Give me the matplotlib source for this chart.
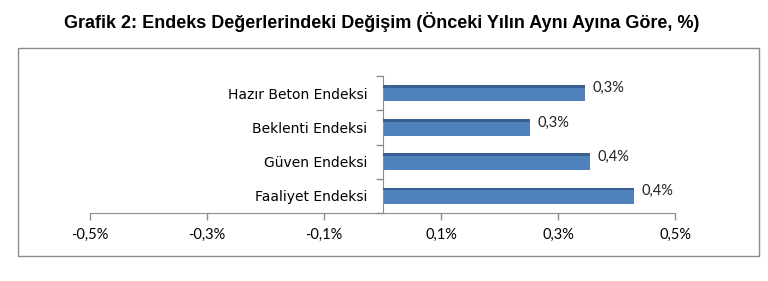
import matplotlib
matplotlib.use("Agg")
import matplotlib.pyplot as plt
from matplotlib.patches import Rectangle
import numpy as np

categories = ["Faaliyet Endeksi", "Güven Endeksi", "Beklenti Endeksi", "Hazır Beton Endeksi"]
values = [0.43, 0.355, 0.252, 0.346]
xticks = [-0.5, -0.3, -0.1, 0.1, 0.3, 0.5]
title = "Grafik 2: Endeks Değerlerindeki Değişim (Önceki Yılın Aynı Ayına Göre, %)"

def pct(v):
    return f"{v:.1f}".replace(".", ",") + "%"

fig = plt.figure(figsize=(7.68, 2.81), dpi=100)
fig.patch.set_facecolor("white")

# outer frame
fig.patches.append(Rectangle((18/768, 1-256/281), 741/768, 208/281,
                             transform=fig.transFigure, fill=False,
                             edgecolor="#8c8c8c", linewidth=1.0))

fig.text(0.497, 0.92, title, ha="center", va="center",
         fontsize=13, fontweight="bold", family="Liberation Sans")

ax = fig.add_axes([90/768, 1-213/281, 585/768, 137/281])
y = np.arange(len(categories))
ax.barh(y, values, height=0.48, color="#4F81BD", edgecolor="none", zorder=2)
ax.barh(y + 0.20, values, height=0.08, color="#3A6091", edgecolor="none", zorder=3)

for yi, v in zip(y, values):
    ax.text(v + 0.013, yi + 0.14, pct(v), ha="left", va="center",
            fontsize=10.5, family="Lato", color="#222222")

ax.set_xlim(-0.5, 0.5)
ax.set_ylim(-0.5, len(categories) - 0.5)
ax.set_xticks(xticks)
ax.set_xticklabels([pct(t) for t in xticks], fontsize=10.5, family="Lato")
ax.set_yticks(y)
ax.set_yticklabels(categories, fontsize=10, family="Lato")
ax.set_yticks(np.arange(-0.5, len(categories), 1.0), minor=True)
ax.tick_params(axis="y", which="major", length=0, pad=11)
ax.tick_params(axis="y", which="minor", length=5, color="#8c8c8c", width=1)
ax.tick_params(axis="x", length=5, color="#8c8c8c", width=1, pad=6)

for s in ["top", "right"]:
    ax.spines[s].set_visible(False)
ax.spines["left"].set_position(("data", 0))
ax.spines["left"].set_color("#8c8c8c")
ax.spines["bottom"].set_color("#8c8c8c")
ax.patch.set_alpha(0)

fig.savefig("out.png", dpi=100)
